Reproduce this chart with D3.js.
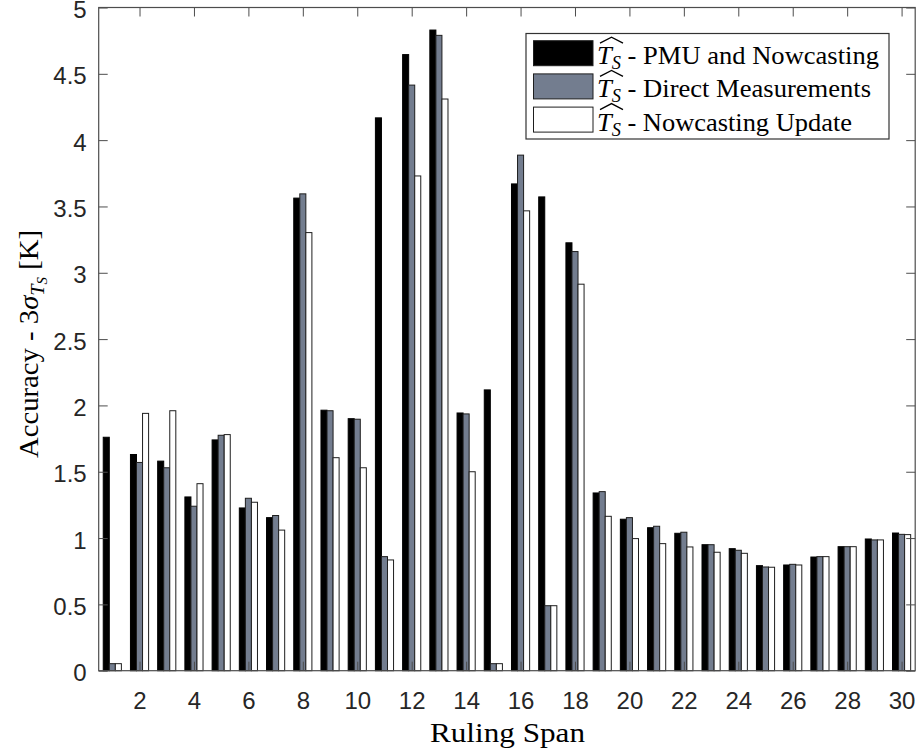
<!DOCTYPE html>
<html><head><meta charset="utf-8">
<script src="https://cdn.jsdelivr.net/npm/d3@7"></script>
<style>body{margin:0;background:#fff}</style>
</head><body><svg id="c" width="918" height="751" xmlns="http://www.w3.org/2000/svg"></svg>
<script>
const spans = [1,2,3,4,5,6,7,8,9,10,11,12,13,14,15,16,17,18,19,20,21,22,23,24,25,26,27,28,29,30];
const pmuNowcasting = [1.76,1.63,1.58,1.31,1.74,1.227,1.154,3.563,1.964,1.90,4.168,4.645,4.83,1.943,2.117,3.67,3.572,3.226,1.34,1.142,1.078,1.036,0.95,0.92,0.792,0.797,0.857,0.935,0.993,1.038];
const directMeasurements = [0.053,1.57,1.53,1.24,1.775,1.30,1.17,3.595,1.96,1.896,0.86,4.415,4.79,1.936,0.053,3.887,0.49,3.16,1.35,1.154,1.089,1.044,0.95,0.908,0.782,0.802,0.86,0.935,0.986,1.028];
const nowcastingUpdate = [0.053,1.94,1.96,1.41,1.78,1.27,1.06,3.303,1.606,1.53,0.835,3.73,4.31,1.50,0.053,3.467,0.49,2.914,1.164,0.996,0.958,0.933,0.893,0.885,0.78,0.797,0.86,0.935,0.986,1.026];
const seriesNames = ["PMU and Nowcasting","Direct Measurements","Nowcasting Update"];
const seriesColors = ["#000000","#737d8f","#ffffff"];
const yTicks = [0,0.5,1,1.5,2,2.5,3,3.5,4,4.5,5];
const xTicks = [2,4,6,8,10,12,14,16,18,20,22,24,26,28,30];

const series = [pmuNowcasting, directMeasurements, nowcastingUpdate];
const svg = d3.select("#c");
svg.append("rect").attr("width",918).attr("height",751).attr("fill","#fff");

const L = 98.7, R = 915.2, T = 7.5, B = 670.7;
const x = d3.scaleLinear().domain([0.5,30.5]).range([L,R]);
const y = d3.scaleLinear().domain([0,5]).range([B,T]);
const inner = d3.scaleBand().domain([0,1,2]).range([-1/3,1/3]).padding(0);
const bw = inner.bandwidth();

// bars
series.forEach((vals,j)=>{
  svg.append("g").selectAll("rect").data(spans).join("rect")
    .attr("x", d => x(d + inner(j)))
    .attr("width", d => x(d + inner(j) + bw) - x(d + inner(j)))
    .attr("y", (d,i) => y(vals[i]))
    .attr("height", (d,i) => y(0) - y(vals[i]))
    .attr("fill", seriesColors[j])
    .attr("stroke", j===0 ? "#000" : "#1e1e1e")
    .attr("stroke-width", 1);
});

const axCol = "#4d4d4d";
function styleAxis(g){
  g.select(".domain").remove();
  g.selectAll(".tick line").attr("stroke", axCol).attr("stroke-width",1);
  g.selectAll(".tick text").attr("fill","#262626")
    .style("font-family","'Liberation Sans', Arial, Helvetica, sans-serif")
    .style("font-size","24px");
}
svg.append("g").attr("transform",`translate(${L},0)`)
  .call(d3.axisLeft(y).tickValues(yTicks).tickSize(-9).tickPadding(12).tickFormat(d=>String(d)))
  .call(styleAxis)
  .call(g => g.selectAll(".tick text").attr("dy","0.42em"));
svg.append("g").attr("transform",`translate(${R},0)`)
  .call(d3.axisRight(y).tickValues(yTicks).tickSize(-9).tickFormat(""))
  .call(styleAxis);
svg.append("g").attr("transform",`translate(0,${B})`)
  .call(d3.axisBottom(x).tickValues(xTicks).tickSize(-9).tickPadding(21).tickFormat(d=>String(d)))
  .call(styleAxis);
svg.append("g").attr("transform",`translate(0,${T})`)
  .call(d3.axisTop(x).tickValues(xTicks).tickSize(-9).tickFormat(""))
  .call(styleAxis);
svg.selectAll("g text").filter(function(){return this.textContent==="";}).remove();

svg.append("rect").attr("x",L).attr("y",T).attr("width",R-L).attr("height",B-T)
  .attr("fill","none").attr("stroke",axCol).attr("stroke-width",1.2);

// x label
svg.append("text").attr("x",507.5).attr("y",742)
  .attr("text-anchor","middle")
  .attr("textLength",155).attr("lengthAdjust","spacingAndGlyphs")
  .style("font-family","'Liberation Serif','Times New Roman',serif")
  .style("font-size","27px").attr("fill","#000").text("Ruling Span");

// y label
const yl = svg.append("text").attr("transform","translate(38,344) rotate(-90)")
  .attr("text-anchor","middle")
  .attr("textLength",228).attr("lengthAdjust","spacingAndGlyphs")
  .style("font-family","'Liberation Serif','Times New Roman',serif")
  .style("font-size","27px").attr("fill","#000");
yl.append("tspan").text("Accuracy - 3");
yl.append("tspan").style("font-style","italic").text("σ");
yl.append("tspan").style("font-style","italic").style("font-size","19px").attr("dy",6).text("T");
yl.append("tspan").style("font-style","italic").style("font-size","14px").attr("dy",3).text("S");
yl.append("tspan").attr("dy",-9).text(" [K]");

// legend
const lg = svg.append("g");
lg.append("rect").attr("x",526).attr("y",33.5).attr("width",363).attr("height",105.5)
  .attr("fill","#fff").attr("stroke","#333").attr("stroke-width",1.2);
const legLens = [282,274,255];
seriesNames.forEach((name,j)=>{
  const top = 40.7 + j*33.2;
  lg.append("rect").attr("x",533.5).attr("y",top).attr("width",59.5).attr("height",25)
    .attr("fill",seriesColors[j]).attr("stroke","#1e1e1e").attr("stroke-width",1);
  const base = top + 23.5;
  const tx = 597;
  const t = lg.append("text").attr("x",tx).attr("y",base)
    .attr("textLength",legLens[j]).attr("lengthAdjust","spacingAndGlyphs")
    .style("font-family","'Liberation Serif','Times New Roman',serif")
    .style("font-size","26px").attr("fill","#000");
  t.append("tspan").style("font-style","italic").text("T");
  t.append("tspan").style("font-style","italic").style("font-size","18px").attr("dy",5).text("S");
  t.append("tspan").attr("dy",-5).text("  - " + name);
  lg.append("path")
    .attr("d",`M${tx+3},${base-21} L${tx+14.5},${base-27} L${tx+26},${base-21}`)
    .attr("fill","none").attr("stroke","#000").attr("stroke-width",1.3);
});
</script></body></html>
